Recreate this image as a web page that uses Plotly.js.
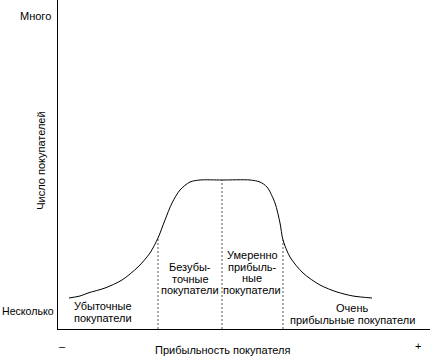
<!DOCTYPE html>
<html>
<head>
<meta charset="utf-8">
<script src="https://cdn.plot.ly/plotly-3.0.1.min.js"></script>
<style>html,body{margin:0;padding:0;background:#fff;}#chart{width:430px;height:356px;}</style>
</head>
<body>
<div id="chart"></div>
<script>
// Customer profitability (arbitrary units) vs number of customers (arbitrary units)
const profitability = [11, 22, 30, 47, 64, 80, 92, 100, 107, 114, 122, 132, 142, 164, 192, 202, 209, 217, 222, 225, 232, 245, 262, 279, 295, 314];
const customers     = [31, 33, 36, 41, 49, 62, 76, 91, 109, 126, 139, 147, 149, 149, 149, 147, 142, 126, 106, 89, 72, 56, 44, 37, 33, 31];

// Segment boundaries and the curve height at each boundary
const dividerX   = [100, 164, 225];
const dividerTop = [91, 149, 89];

// Segment labels (one entry per line)
const segmentLines = [
  ["Убыточные", "покупатели"],
  ["Безубы-", "точные", "покупатели"],
  ["Умеренно", "прибыль-", "ные", "покупатели"],
  ["Очень", "прибыльные покупатели"]
];

// Axis end labels
const yEndLabels = ["Несколько", "Много"];
const xEndLabels = ["–", "+"];
const xTitle = "Прибыльность покупателя";
const yTitle = "Число покупателей";

const FONT = "Liberation Sans, Arial, sans-serif";

// build dashed divider segments
const dx = [], dy = [];
dividerX.forEach((x, i) => { dx.push(x, x, null); dy.push(0, dividerTop[i], null); });

const traces = [
  {x: dx, y: dy, mode: 'lines', type: 'scatter', hoverinfo: 'skip',
   line: {color: '#555', width: 1, dash: '2px,2px'}},
  {x: profitability, y: customers, mode: 'lines', type: 'scatter',
   line: {color: '#000', width: 1, shape: 'spline', smoothing: 0.8}}
];

const f = {family: FONT, size: 11, color: '#000'};

// label line placement (centre x, top line y, line step)
const labelPos = [
  {x: 45, y: 23},
  {x: 132, y: 62},
  {x: 194, y: 74},
  {x: 294, y: 21}
];
const step = 11.5;
const annotations = [];
segmentLines.forEach((lines, i) => {
  lines.forEach((t, j) => {
    annotations.push({x: labelPos[i].x, y: labelPos[i].y - j * step, xref: 'x', yref: 'y',
      text: t, showarrow: false, xanchor: 'center', yanchor: 'middle', borderpad: 0, font: f});
  });
});
// axis titles
annotations.push({x: 0.441, y: -0.064, xref: 'paper', yref: 'paper', text: xTitle, showarrow: false,
  xanchor: 'center', yanchor: 'middle', borderpad: 0, font: f});
annotations.push({x: -0.046, y: 0.511, xref: 'paper', yref: 'paper', text: yTitle, showarrow: false,
  textangle: -90, xanchor: 'center', yanchor: 'middle', borderpad: 0, font: f});
// axis end labels
annotations.push({x: -0.008, y: 0.0547, xref: 'paper', yref: 'paper', text: yEndLabels[0], showarrow: false,
  xanchor: 'right', yanchor: 'middle', borderpad: 0, font: {family: FONT, size: 10.6, color: '#000'}});
annotations.push({x: -0.0161, y: 0.951, xref: 'paper', yref: 'paper', text: yEndLabels[1], showarrow: false,
  xanchor: 'right', yanchor: 'middle', borderpad: 0, font: f});
annotations.push({x: 0.0134, y: -0.052, xref: 'paper', yref: 'paper', text: xEndLabels[0], showarrow: false,
  xanchor: 'center', yanchor: 'middle', borderpad: 0, font: f});
annotations.push({x: 0.968, y: -0.052, xref: 'paper', yref: 'paper', text: xEndLabels[1], showarrow: false,
  xanchor: 'center', yanchor: 'middle', borderpad: 0, font: f});

const layout = {
  width: 430, height: 356,
  margin: {l: 58, r: 0, t: 0, b: 27, pad: 0},
  paper_bgcolor: '#fff', plot_bgcolor: '#fff',
  showlegend: false,
  font: f,
  xaxis: {range: [0, 372], showgrid: false, zeroline: false, showline: true, linecolor: '#000', linewidth: 1,
    showticklabels: false, ticks: '', fixedrange: true},
  yaxis: {range: [0, 329], showgrid: false, zeroline: false, showline: true, linecolor: '#000', linewidth: 1,
    showticklabels: false, ticks: '', fixedrange: true},
  annotations: annotations
};

Plotly.newPlot('chart', traces, layout, {displayModeBar: false, staticPlot: true});
</script>
</body>
</html>
